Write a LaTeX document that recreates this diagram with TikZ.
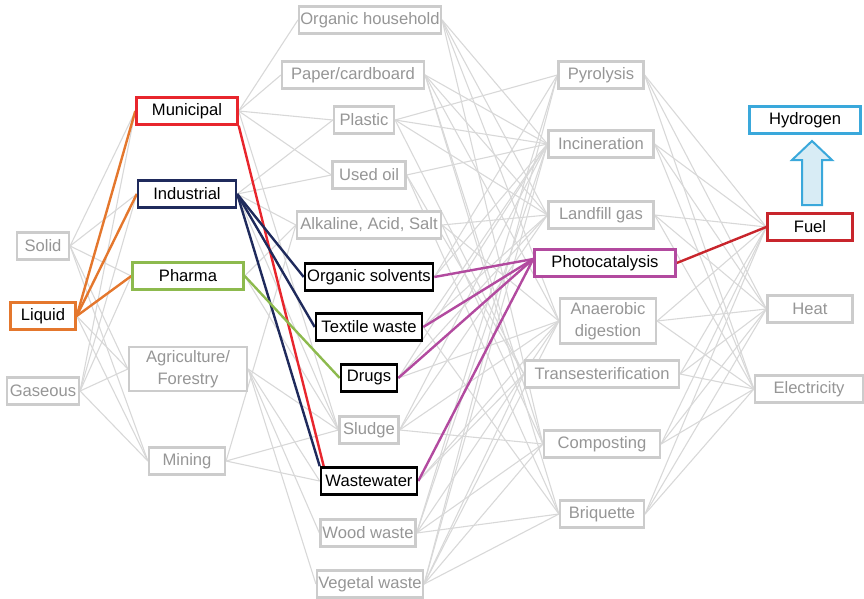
\documentclass[tikz,border=0pt]{standalone}
\usepackage{fontspec}
\setmainfont{Liberation Sans}
\usetikzlibrary{backgrounds}
\definecolor{boxgray}{HTML}{CCCCCC}
\definecolor{txtgray}{HTML}{969696}
\definecolor{linkgray}{HTML}{D8D8D8}
\definecolor{cmuni}{HTML}{E8262D}
\definecolor{cindu}{HTML}{1F2A5C}
\definecolor{cpharma}{HTML}{8DBA4E}
\definecolor{cliquid}{HTML}{E4772D}
\definecolor{cphoto}{HTML}{B24A9F}
\definecolor{cfuel}{HTML}{C8252C}
\definecolor{chydro}{HTML}{3AA8DB}
\definecolor{carrowfill}{HTML}{D8ECF5}
\begin{document}
\begin{tikzpicture}[x=1pt,y=-1pt,
  box/.style={draw, line width=2.2pt, fill=white, inner sep=0pt,
    font=\fontsize{16.6}{21.5}\selectfont, align=center,
    minimum height=27pt},
  gbox/.style={box, draw=boxgray, text=txtgray},
  kbox/.style={box, draw=black, line width=2.6pt, text=black},
  cbox/.style={box, line width=2.4pt, text=black},
  link/.style={draw=linkgray, line width=1.1pt},
  clink/.style={line width=2.4pt}]
\useasboundingbox (0,0) rectangle (864,599);

% state of matter
\node[gbox, minimum width=52pt] (solid) at (43,246) {Solid};
\node[cbox, draw=cliquid, minimum width=65pt] (liquid) at (43,316) {Liquid};
\node[gbox, minimum width=72pt] (gas) at (43,391) {Gaseous};

% origin
\node[cbox, draw=cmuni, minimum width=101pt] (muni) at (187,111) {Municipal};
\node[cbox, draw=cindu, minimum width=98pt] (indu) at (187,194) {Industrial};
\node[cbox, draw=cpharma, minimum width=111pt] (pharma) at (188,276) {Pharma};
\node[gbox, minimum width=118pt, minimum height=44pt] (agri) at (188,369) {Agriculture/\\Forestry};
\node[gbox, minimum width=76pt] (mining) at (187,461) {Mining};

% waste types
\node[gbox, minimum width=142pt] (orghh) at (370,20) {Organic household};
\node[gbox, minimum width=142pt] (paper) at (353,75) {Paper/cardboard};
\node[gbox, minimum width=60pt] (plastic) at (364,120) {Plastic};
\node[gbox, minimum width=73pt] (usedoil) at (369,175) {Used oil};
\node[gbox, minimum width=144pt] (alk) at (369,225) {Alkaline, Acid, Salt};
\node[kbox, minimum width=128pt] (orgsolv) at (369,277) {Organic solvents};
\node[kbox, minimum width=106pt] (textile) at (369,327) {Textile waste};
\node[kbox, minimum width=56pt] (drugs) at (369,378) {Drugs};
\node[gbox, minimum width=59pt] (sludge) at (369,430) {Sludge};
\node[kbox, minimum width=96pt] (wastew) at (369,481) {Wastewater};
\node[gbox, minimum width=95pt] (wood) at (368,533) {Wood waste};
\node[gbox, minimum width=106pt] (veg) at (370,584) {Vegetal waste};

% treatment routes
\node[gbox, minimum width=85pt] (pyro) at (601,75) {Pyrolysis};
\node[gbox, minimum width=105pt] (incin) at (601,144) {Incineration};
\node[gbox, minimum width=105pt] (landf) at (601,215) {Landfill gas};
\node[cbox, draw=cphoto, minimum width=141pt] (photo) at (605,263) {Photocatalysis};
\node[gbox, minimum width=96pt, minimum height=45pt] (anaer) at (608,321) {Anaerobic\\digestion};
\node[gbox, minimum width=154pt] (trans) at (602,374) {Transesterification};
\node[gbox, minimum width=116pt] (compost) at (602,444) {Composting};
\node[gbox, minimum width=84pt] (briq) at (602,514) {Briquette};

% products
\node[cbox, draw=chydro, minimum width=111pt] (hydro) at (805,120) {Hydrogen};
\node[cbox, draw=cfuel, minimum width=85pt] (fuel) at (810,227) {Fuel};
\node[gbox, minimum width=85pt] (heat) at (810,309) {Heat};
\node[gbox, minimum width=108pt] (elec) at (809,389) {Electricity};

% block arrow from fuel to hydrogen
\draw[draw=chydro, fill=carrowfill, line width=2pt, line join=miter]
  (802,205) -- (802,160) -- (792,160) -- (812,141) -- (832,160)
  -- (822,160) -- (822,205) -- cycle;

\begin{pgfonlayer}{background}
  % grey network
  \foreach \a/\b in {solid/muni, solid/indu, solid/pharma, solid/agri, solid/mining,
      gas/muni, gas/indu, gas/pharma, gas/agri, gas/mining,
      liquid/agri, liquid/mining}
    \draw[link] (\a.east) -- (\b.west);
  \foreach \a/\b in {muni/orghh, muni/paper, muni/plastic, muni/usedoil, muni/sludge,
      indu/usedoil, indu/plastic, indu/alk, indu/sludge, pharma/alk, pharma/sludge,
      agri/wood, agri/veg, agri/wastew, agri/sludge,
      mining/sludge, mining/wastew, mining/alk}
    \draw[link] (\a.east) -- (\b.west);
  \foreach \a/\b in {orghh/incin, orghh/landf, orghh/anaer, orghh/compost,
      paper/incin, paper/landf, paper/compost, paper/briq, paper/anaer,
      plastic/pyro, plastic/incin, plastic/landf, plastic/trans,
      usedoil/trans, usedoil/incin, usedoil/briq,
      alk/anaer, alk/compost, alk/landf,
      orgsolv/incin, orgsolv/pyro,
      textile/incin, textile/landf, textile/briq,
      drugs/incin, drugs/anaer, drugs/landf,
      sludge/anaer, sludge/incin, sludge/landf, sludge/compost,
      wastew/anaer, wastew/trans,
      wood/pyro, wood/incin, wood/briq, wood/compost, wood/anaer,
      veg/pyro, veg/incin, veg/anaer, veg/trans, veg/compost, veg/briq}
    \draw[link] (\a.east) -- (\b.west);
  \foreach \a/\b in {pyro/fuel, pyro/heat, pyro/elec,
      incin/heat, incin/elec, incin/fuel,
      landf/fuel, landf/heat, landf/elec,
      anaer/fuel, anaer/heat, anaer/elec,
      trans/fuel, trans/elec, trans/heat,
      compost/fuel, compost/heat, compost/elec,
      briq/fuel, briq/heat, briq/elec}
    \draw[link] (\a.east) -- (\b.west);

  % highlighted pathway
  \foreach \b in {muni, indu, pharma}
    \draw[clink, cliquid] (liquid.east) -- (\b.west);
  \draw[clink, cmuni] (muni.south east) -- ([xshift=4pt]wastew.north west);
  \draw[clink, cindu] (indu.east) -- (orgsolv.west);
  \draw[clink, cindu] (indu.east) -- (textile.west);
  \draw[clink, cindu] (indu.east) -- (wastew.north west);
  \draw[clink, cpharma] (pharma.east) -- (drugs.west);
  \foreach \a in {orgsolv, textile, drugs, wastew}
    \draw[clink, cphoto] (\a.east) -- ([yshift=4pt]photo.west);
  \draw[clink, cfuel] (photo.east) -- (fuel.west);
\end{pgfonlayer}
\end{tikzpicture}
\end{document}
